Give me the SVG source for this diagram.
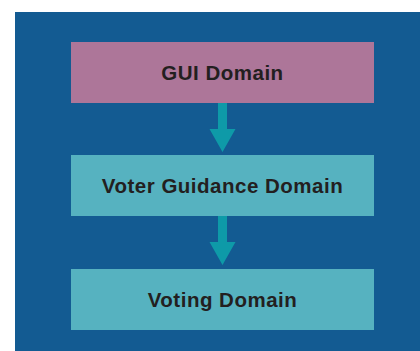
<svg xmlns="http://www.w3.org/2000/svg" width="420" height="351" viewBox="0 0 420 351">
  <style>
    .box-gui { fill: #ad7699; }
    .box-dom { fill: #56b2c0; }
    .label { font-family: "Liberation Sans", Arial, sans-serif; font-weight: bold; font-size: 20.5px; fill: #231f20; text-anchor: middle; letter-spacing: 0.5px; }
    .arrow { fill: #0e9aa8; }
  </style>
  <rect x="0" y="0" width="420" height="351" fill="#ffffff"/>
  <rect x="15" y="12" width="405" height="339" fill="#135b92"/>

  <g id="connectors">
    <path class="arrow" d="M218 103 H227 V129 H235.5 L222.5 152 L209.5 129 H218 Z"/>
    <path class="arrow" d="M218 216 H227 V242 H235.5 L222.5 265 L209.5 242 H218 Z"/>
  </g>

  <g id="gui-domain">
    <rect class="box-gui" x="71" y="42" width="303" height="61"/>
    <text class="label" x="222.5" y="80">GUI Domain</text>
  </g>

  <g id="voter-guidance-domain">
    <rect class="box-dom" x="71" y="155" width="303" height="61"/>
    <text class="label" x="222.5" y="193">Voter Guidance Domain</text>
  </g>

  <g id="voting-domain">
    <rect class="box-dom" x="71" y="269" width="303" height="61"/>
    <text class="label" x="222.5" y="307">Voting Domain</text>
  </g>
</svg>
